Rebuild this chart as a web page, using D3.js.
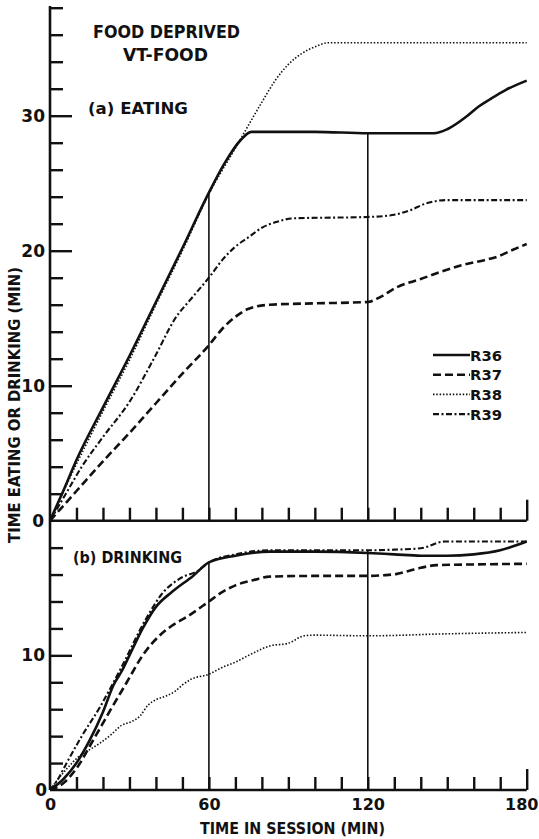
<!DOCTYPE html>
<html>
<head>
<meta charset="utf-8">
<script src="https://cdn.jsdelivr.net/npm/d3@7"></script>
<style>
  body { margin: 0; background: #fff; }
  text { font-family: "DejaVu Sans", sans-serif; font-weight: bold; fill: #111; }
</style>
</head>
<body>
<div class="graph"></div>
<script>
// series names and line styles are matched by index
var rats = ['R36', 'R37', 'R38', 'R39'];

// (a) eating, cumulative minutes vs session minutes
var eatR36 = [[0,0],[5,2.2],[10,4.5],[20,8.4],[30,12.2],[40,16.2],[50,20.2],[60,24.3],[66,26.5],[72,28.2],[76,28.8],[100,28.8],[120,28.7],[145,28.7],[150,29.0],[157,29.9],[162,30.7],[166,31.2],[172,31.9],[180,32.6]];
var eatR37 = [[0,0],[10,2.2],[20,4.4],[30,6.5],[40,8.7],[50,10.9],[60,13],[65,14.2],[70,15.1],[75,15.7],[83,16],[100,16.1],[120,16.2],[125,16.6],[131,17.3],[140,17.9],[147,18.4],[155,18.9],[164,19.3],[168,19.5],[174,20],[180,20.5]];
var eatR38 = [[0,0],[10,4.2],[20,8.1],[30,11.9],[40,16],[50,20],[60,24.2],[70,27.6],[80,31],[85,32.6],[90,33.8],[95,34.6],[100,35.1],[105,35.4],[180,35.4]];
var eatR39 = [[0,0],[6,2],[12,4],[20,6.2],[30,8.8],[40,12.3],[47,14.9],[54,16.6],[60,18],[65,19.3],[70,20.3],[75,21],[80,21.7],[85,22.1],[92,22.4],[120,22.5],[128,22.6],[136,23.0],[142,23.5],[150,23.75],[180,23.75]];

// (b) drinking
var drinkR36 = [[0,0],[5,0.8],[10,2],[15,3.7],[20,5.8],[24,7.8],[27,8.8],[30,10],[35,12],[40,13.6],[46,14.7],[54,15.9],[60,16.9],[70,17.4],[83,17.7],[100,17.7],[120,17.6],[130,17.5],[140,17.4],[150,17.4],[160,17.5],[170,17.8],[180,18.45]];
var drinkR37 = [[0,0],[5,0.5],[10,1.6],[16,3.6],[23,6],[29,8],[35,10],[41,11.4],[46,12.2],[52,12.9],[60,14],[65,14.7],[70,15.2],[77,15.6],[83,15.85],[100,15.9],[120,15.9],[126,15.95],[131,16.05],[136,16.3],[140,16.5],[146,16.7],[160,16.75],[180,16.8]];
var drinkR38 = [[0,0],[3,0.8],[6,1.5],[11,2.5],[15,3],[19,3.5],[23,4.1],[27,4.8],[31,5.1],[34,5.5],[37,6.3],[40,6.7],[44,7],[47,7.3],[50,7.8],[53,8.2],[60,8.6],[65,9.1],[70,9.5],[76,10.1],[83,10.7],[90,10.9],[96,11.45],[100,11.5],[120,11.45],[150,11.6],[180,11.7]];
var drinkR39 = [[0,0],[3,0.8],[6,1.9],[12,4],[19,6.2],[24,8],[28,9.5],[34,11.9],[38,13.3],[42,14.5],[49,15.7],[56,16.3],[60,16.9],[70,17.5],[83,17.8],[100,17.8],[120,17.8],[130,17.85],[140,17.95],[149,18.45],[180,18.45]];

var xTicks = [10,20,30,40,50,60,70,80,90,100,110,120,130,140,150,160,170];
var xLabels = [0, 60, 120, 180];
var markTimes = [60, 120];
var eatMajor = [10, 20, 30];
var eatMinor = [2,4,6,8,12,14,16,18,22,24,26,28,32,34,36,38];
var drinkMajor = [10];
var drinkMinor = [2,4,6,8,12,14,16,18];

var width = 539, height = 839;
var dashes = [null, '8,4', '1.5,1.8', '6,2.5,2,2.5'];
var widths = [2.6, 2.6, 1.6, 2.1];

var svg = d3.select('.graph').append('svg')
    .attr('width', width)
    .attr('height', height);

var x = d3.scaleLinear().domain([0, 180]).range([50, 526.7]);
var yEat = d3.scaleLinear().domain([0, 38]).range([520.7, 7.7]);
var yDrink = d3.scaleLinear().domain([0, 20]).range([790, 520.7]);

function panel(y, series, major, minor) {
  var g = svg.append('g');

  // y ticks point inward, labels on the left
  g.append('g').attr('transform', 'translate(' + x(0) + ',0)')
    .call(d3.axisLeft(y).tickValues(minor).tickSize(-13).tickSizeOuter(0).tickFormat(''));
  g.append('g').attr('transform', 'translate(' + x(0) + ',0)')
    .call(d3.axisLeft(y).tickValues(major).tickSize(-22).tickSizeOuter(0).tickPadding(5));

  // x ticks point up
  g.append('g').attr('transform', 'translate(0,' + y(0) + ')')
    .call(d3.axisBottom(x).tickValues(xTicks).tickSize(-13).tickSizeOuter(0).tickFormat(''));
  g.append('g').attr('transform', 'translate(0,' + y(0) + ')')
    .call(d3.axisBottom(x).tickValues([180]).tickSize(-21).tickSizeOuter(0).tickFormat(''));

  g.selectAll('.domain').remove();
  g.selectAll('.tick line').attr('stroke', '#111').attr('stroke-width', 2.4);
  g.selectAll('.tick text').style('font-size', '17px').attr('fill', '#111');

  // baseline
  g.append('line')
    .attr('x1', x(0)).attr('x2', x(180))
    .attr('y1', y(0)).attr('y2', y(0))
    .attr('stroke', '#111').attr('stroke-width', 2.6);

  // vertical markers at 60 and 120 reaching the highest curve
  markTimes.forEach(function (t) {
    var top = d3.max(series, function (s) {
      var p = s.find(function (d) { return d[0] === t; });
      return p ? p[1] : 0;
    });
    g.append('line')
      .attr('x1', x(t)).attr('x2', x(t))
      .attr('y1', y(0)).attr('y2', y(top))
      .attr('stroke', '#111').attr('stroke-width', 1.6);
  });

  var line = d3.line()
    .x(function (d) { return x(d[0]); })
    .y(function (d) { return y(d[1]); })
    .curve(d3.curveMonotoneX);

  g.selectAll('path.curve')
    .data(series)
    .enter().append('path')
      .attr('class', 'curve')
      .attr('d', line)
      .attr('fill', 'none')
      .attr('stroke', '#111')
      .attr('stroke-width', function (d, i) { return widths[i]; })
      .attr('stroke-dasharray', function (d, i) { return dashes[i]; });
  return g;
}

panel(yEat, [eatR36, eatR37, eatR38, eatR39], eatMajor, eatMinor);
panel(yDrink, [drinkR36, drinkR37, drinkR38, drinkR39], drinkMajor, drinkMinor);

// 0 labels at the foot of each panel
svg.append('text').attr('x', 44).attr('y', yEat(0)).attr('dy', '0.36em')
  .attr('text-anchor', 'end').style('font-size', '17px').text('0');
svg.append('text').attr('x', 47).attr('y', yDrink(0)).attr('dy', '0.36em')
  .attr('text-anchor', 'end').style('font-size', '17px').text('0');

// y axis line through both panels
svg.append('line')
  .attr('x1', x(0)).attr('x2', x(0))
  .attr('y1', 6).attr('y2', yDrink(0))
  .attr('stroke', '#111').attr('stroke-width', 2.6);

// x labels under the lower panel
svg.append('g').attr('transform', 'translate(0,' + yDrink(0) + ')')
  .call(d3.axisBottom(x).tickValues(xLabels).tickSize(0).tickPadding(9))
  .call(function (g) { g.select('.domain').remove(); })
  .selectAll('text')
    .style('font-size', '16px').attr('fill', '#111')
    .filter(function (d) { return d === 180; })
    .attr('text-anchor', 'end')
    .attr('x', 538 - x(180));

// titles, squeezed horizontally to the lettering widths of the original
function label(txt, cx, cy, size, len, rot) {
  var t = svg.append('text')
    .attr('text-anchor', 'middle')
    .style('font-size', size + 'px')
    .text(txt);
  var sx = len / t.node().getComputedTextLength();
  t.attr('transform', 'translate(' + cx + ',' + cy + ')' +
    (rot ? ' rotate(-90)' : '') + ' scale(' + sx + ',1)');
  return t;
}
label('FOOD DEPRIVED', 166.5, 38, 17, 147);
label('VT-FOOD', 165.5, 61, 17, 85);
label('(a) EATING', 138, 114, 16, 100);
label('(b) DRINKING', 127.5, 562.5, 16, 109);
label('TIME IN SESSION (MIN)', 292.5, 834, 16, 185);
label('TIME EATING OR DRINKING (MIN)', 20, 405, 16, 276, true);

// legend
var legend = svg.append('g');
rats.forEach(function (r, i) {
  var yy = 355 + i * 19.7;
  legend.append('line')
    .attr('x1', 433).attr('x2', 470)
    .attr('y1', yy).attr('y2', yy)
    .attr('stroke', '#111')
    .attr('stroke-width', widths[i])
    .attr('stroke-dasharray', dashes[i]);
  legend.append('text')
    .attr('x', 470).attr('y', yy + 5.5)
    .style('font-size', '14px')
    .attr('textLength', 32)
    .attr('lengthAdjust', 'spacingAndGlyphs')
    .text(r);
});
</script>
</body>
</html>
